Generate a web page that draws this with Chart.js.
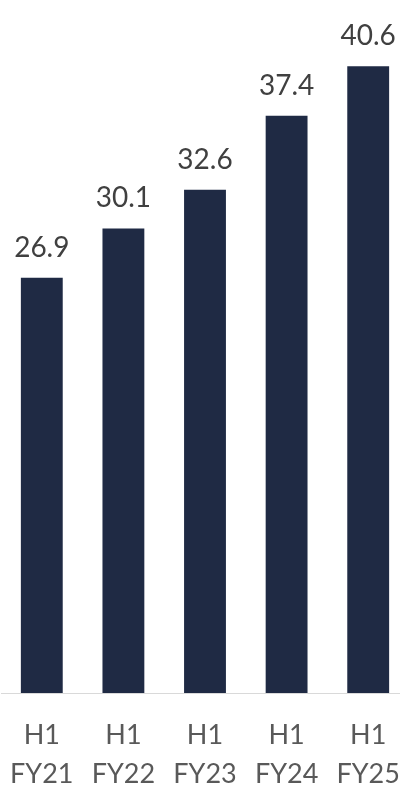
<!DOCTYPE html>
<html>
<head>
<meta charset="utf-8">
<script src="https://cdn.jsdelivr.net/npm/chart.js@4"></script>
<style>
  html, body { margin: 0; padding: 0; background: #fff; overflow: hidden; }
  #wrap { width: 409px; height: 790px; }
</style>
</head>
<body>
<div id="wrap"><canvas id="chart"></canvas></div>
<script>
const periods = ["H1", "H1", "H1", "H1", "H1"];
const years = ["FY21", "FY22", "FY23", "FY24", "FY25"];
const values = [26.9, 30.1, 32.6, 37.4, 40.6];

const fontFamily = "Lato, 'Open Sans', sans-serif";

// value labels above each bar
const valueLabels = {
  id: "valueLabels",
  afterDatasetsDraw(chart) {
    const ctx = chart.ctx;
    const meta = chart.getDatasetMeta(0);
    ctx.save();
    ctx.font = "28px " + fontFamily;
    ctx.fillStyle = "#404040";
    ctx.textAlign = "center";
    ctx.textBaseline = "bottom";
    meta.data.forEach((bar, i) => {
      ctx.fillText(values[i].toFixed(1), bar.x, bar.y - 16);
    });
    ctx.restore();
  },
};

new Chart(document.getElementById("chart"), {
  type: "bar",
  data: {
    labels: periods.map((p, i) => [p, years[i]]),
    datasets: [
      {
        data: values,
        backgroundColor: "#1f2a44",
        categoryPercentage: 1,
        barPercentage: 0.513,
      },
    ],
  },
  options: {
    responsive: true,
    maintainAspectRatio: false,
    animation: false,
    layout: { padding: { left: 1 } },
    plugins: {
      legend: { display: false },
      tooltip: { enabled: false },
    },
    scales: {
      x: {
        grid: { display: false, drawTicks: false },
        border: { display: true, color: "#d9d9d9", width: 1 },
        ticks: {
          color: "#595959",
          font: { family: fontFamily, size: 27, lineHeight: 1.45 },
          padding: 23,
          maxRotation: 0,
        },
        afterFit(scale) {
          scale.height = 97;
          scale.paddingLeft = 0;
          scale.paddingRight = 0;
        },
      },
      y: {
        display: false,
        min: 0,
        max: 44.9,
      },
    },
  },
  plugins: [valueLabels],
});
</script>
</body>
</html>
